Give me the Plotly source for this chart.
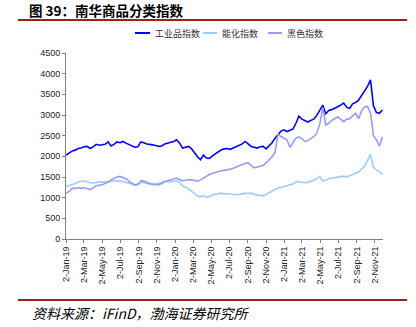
import pandas as pd
import plotly.graph_objects as go

# ---- data (one value every 10 days) ----
start_date = "2019-01-02"
n_points = 107
dates = pd.date_range(start_date, periods=n_points, freq="10D")

series_names = ["工业品指数", "能化指数", "黑色指数"]

industrial = [
    2030, 2080, 2130, 2150, 2190, 2200, 2230, 2240, 2190, 2230,
    2290, 2270, 2280, 2290, 2350, 2250, 2290, 2350, 2330, 2360,
    2320, 2290, 2260, 2220, 2230, 2350, 2330, 2300, 2290, 2280,
    2260, 2240, 2250, 2300, 2320, 2340, 2360, 2400, 2320, 2200,
    2220, 2240, 2180, 2080, 1990, 1920, 2030, 1960, 1950, 2010,
    2060, 2120, 2160, 2180, 2190, 2170, 2200, 2240, 2270, 2300,
    2360, 2300, 2240, 2220, 2200, 2230, 2240, 2180, 2250, 2330,
    2440, 2540, 2610, 2640, 2600, 2630, 2660, 2800, 2970, 2900,
    2870, 2830, 2870, 2900, 2990, 3100, 3240, 3030, 3110, 3130,
    3160, 3200, 3240, 3290, 3190, 3160, 3270, 3300, 3360, 3470,
    3560, 3690, 3850, 3220, 3060, 3040, 3120,
]

energy_chem = [
    1270, 1290, 1310, 1340, 1380, 1400, 1410, 1380, 1360, 1350,
    1370, 1380, 1380, 1370, 1390, 1400, 1410, 1400, 1410, 1390,
    1370, 1350, 1320, 1310, 1340, 1370, 1360, 1340, 1330, 1310,
    1330, 1350, 1370, 1390, 1380, 1390, 1400, 1410, 1380, 1280,
    1250, 1220, 1160, 1100, 1040, 1020, 1050, 1010, 1030, 1070,
    1080, 1100, 1110, 1090, 1100, 1090, 1080, 1070, 1080, 1100,
    1110, 1100, 1110, 1080, 1060, 1050, 1050, 1070, 1120, 1170,
    1200, 1230, 1250, 1260, 1280, 1300, 1330, 1380, 1390, 1370,
    1360, 1370, 1390, 1420, 1460, 1510, 1410, 1420, 1460, 1470,
    1480, 1500, 1510, 1520, 1500, 1530, 1550, 1580, 1620, 1690,
    1760, 1900, 2050, 1740, 1670, 1630, 1560,
]

ferrous = [
    1110, 1150, 1230, 1220, 1240, 1230, 1240, 1210, 1195, 1240,
    1290, 1300, 1310, 1350, 1370, 1430, 1470, 1500, 1515, 1490,
    1460, 1400, 1350, 1300, 1310, 1410, 1400, 1370, 1340, 1330,
    1320, 1310, 1340, 1390, 1410, 1430, 1450, 1475, 1440, 1410,
    1420, 1435, 1430, 1420, 1400, 1430, 1480, 1510, 1560, 1590,
    1610, 1640, 1650, 1660, 1670, 1690, 1710, 1740, 1780, 1800,
    1830, 1840, 1780, 1720, 1740, 1760, 1780, 1840, 1910, 1990,
    2100, 2540, 2480, 2430, 2400, 2220, 2330, 2440, 2470, 2430,
    2360, 2380, 2430, 2480, 2560, 2780, 3180, 2760, 2800, 2870,
    2910, 2960, 2900, 2840, 2900, 2910, 2980, 3040, 2910, 3100,
    3190, 3210, 3050, 2500, 2400, 2250, 2470,
]

x_tick_labels = [
    "2-Jan-19", "2-Mar-19", "2-May-19", "2-Jul-19", "2-Sep-19", "2-Nov-19",
    "2-Jan-20", "2-Mar-20", "2-May-20", "2-Jul-20", "2-Sep-20", "2-Nov-20",
    "2-Jan-21", "2-Mar-21", "2-May-21", "2-Jul-21", "2-Sep-21", "2-Nov-21",
]
y_tick_values = [0, 500, 1000, 1500, 2000, 2500, 3000, 3500, 4000, 4500]

title_text = "图 39：南华商品分类指数"
source_text = "资料来源：iFinD，渤海证券研究所"

# ---- styling ----
colors = ["#0000FF", "#99CCFF", "#9999FF"]
W, H = 416, 327
L, R, T, B = 66, 33, 53, 88
plot_w = W - L - R
plot_h = H - T - B


def px_x(px):
    return (px - L) / plot_w


def px_y(py):
    return (H - B - py) / plot_h


cjk = "Noto Sans CJK SC"
latin = "Liberation Sans, Arial, sans-serif"

fig = go.Figure()
for name, vals, col in zip(series_names, [industrial, energy_chem, ferrous], colors):
    fig.add_trace(go.Scatter(
        x=dates, y=vals, mode="lines", name=name, showlegend=False,
        line=dict(color=col, width=1.6),
    ))

tick_dates = pd.to_datetime(x_tick_labels, format="%d-%b-%y")

# hand-placed legend (short line samples like the reference)
legend_line_px = [(135, 150), (203, 217), (268, 282)]
shapes = [
    dict(type="line", xref="paper", yref="paper",
         x0=px_x(18), x1=px_x(407), y0=px_y(20), y1=px_y(20),
         line=dict(color="#9E1F1F", width=2)),
    dict(type="line", xref="paper", yref="paper",
         x0=px_x(18), x1=px_x(407), y0=px_y(300), y1=px_y(300),
         line=dict(color="#9E1F1F", width=2)),
]
annotations = [
    dict(text="<b>" + title_text + "</b>", xref="paper", yref="paper",
         x=px_x(27), y=px_y(9.5), xanchor="left", yanchor="middle",
         showarrow=False, font=dict(family=cjk, size=13.5, color="#000000")),
    dict(text="<i>" + source_text + "</i>", xref="paper", yref="paper",
         x=px_x(30), y=px_y(313), xanchor="left", yanchor="middle",
         showarrow=False, font=dict(family=cjk, size=14, color="#000000")),
]
for (a, b), name, col in zip(legend_line_px, series_names, colors):
    shapes.append(dict(type="line", xref="paper", yref="paper",
                       x0=px_x(a), x1=px_x(b), y0=px_y(33), y1=px_y(33),
                       line=dict(color=col, width=2)))
    annotations.append(dict(text=name, xref="paper", yref="paper",
                            x=px_x(b + 3), y=px_y(33), xanchor="left", yanchor="middle",
                            showarrow=False,
                            font=dict(family=cjk, size=9, color="#333333")))

fig.update_layout(
    width=W, height=H,
    margin=dict(l=L, r=R, t=T, b=B, pad=0),
    paper_bgcolor="white", plot_bgcolor="white",
    showlegend=False,
    xaxis=dict(
        type="date",
        range=["2019-01-01", "2021-11-29"],
        tickmode="array", tickvals=tick_dates, ticktext=x_tick_labels,
        tickangle=-90,
        tickfont=dict(family=latin, size=9, color="#222222"),
        showgrid=False, zeroline=False,
        showline=True, linecolor="#808080", linewidth=1,
        ticks="outside", ticklen=3, tickcolor="#808080",
    ),
    yaxis=dict(
        range=[0, 4500],
        tickmode="array", tickvals=y_tick_values,
        tickfont=dict(family=latin, size=9, color="#222222"),
        showgrid=False, zeroline=False,
        showline=True, linecolor="#808080", linewidth=1,
        ticks="outside", ticklen=3, tickcolor="#808080",
    ),
    shapes=shapes,
    annotations=annotations,
)

fig.write_html("out.html")
